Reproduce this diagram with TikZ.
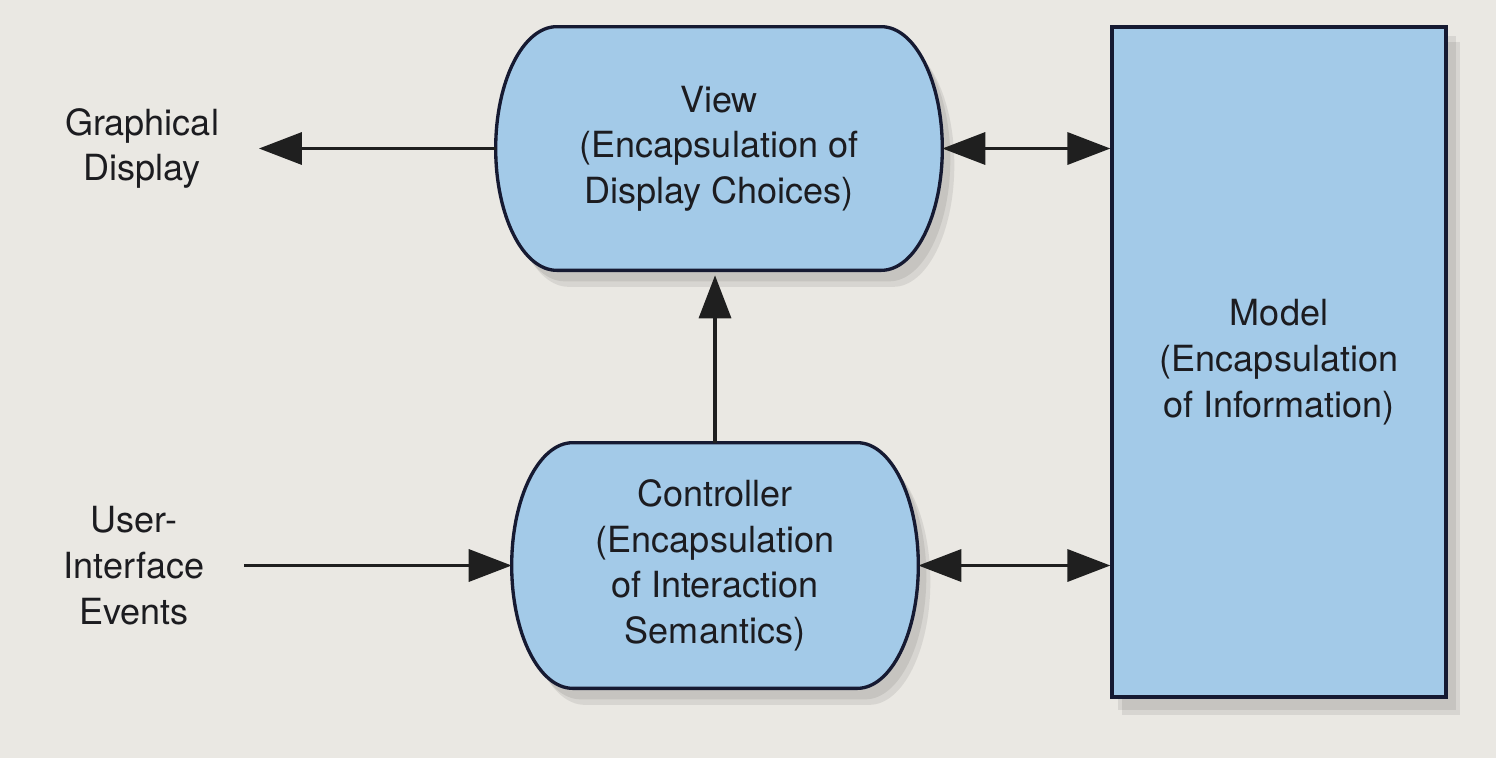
\documentclass[tikz,border=0pt]{standalone}
\usepackage{fontspec}
\setmainfont{TeX Gyre Heros}
\usetikzlibrary{arrows.meta,backgrounds,calc}
\definecolor{pagebg}{RGB}{234,232,227}
\definecolor{boxblue}{RGB}{163,202,232}
\definecolor{boxline}{RGB}{22,26,50}
\definecolor{ink}{RGB}{28,28,32}
\newcommand\capsule[2][capline]{%
  \path[#1] let \p1=(#2.north), \p2=(#2.south), \n1={0.5*(\y1-\y2)} in
    ([xshift=1.22cm]#2.north west) -- ([xshift=-1.22cm]#2.north east)
    arc[start angle=90,end angle=-90,x radius=1.22cm,y radius={\n1*1pt}]
    -- ([xshift=1.22cm]#2.south west)
    arc[start angle=270,end angle=90,x radius=1.22cm,y radius={\n1*1pt}] -- cycle;}
\begin{document}
\begin{tikzpicture}[x=0.02cm,y=-0.02cm,font=\fontsize{20.5}{26}\selectfont,text=ink,
  capline/.style={draw=boxline,line width=1.9pt,fill=boxblue},
  capshadow/.style={fill=black,opacity=.08,transform canvas={shift={(.16cm,-.22cm)}}},
  box/.style={inner sep=0pt,align=center,minimum height=4.86cm},
  lbl/.style={inner sep=0pt,outer sep=.8cm,align=center},
  >={Triangle[length=.86cm,width=.64cm]},
  arr/.style={line width=2pt,draw=black!88,->}]
  \useasboundingbox (0,0) rectangle (1496,758);
  \node[box,minimum width=8.92cm] (view) at (719,148.5){View\\(Encapsulation of\\Display Choices)};
  \node[box,minimum width=8.12cm,minimum height=4.9cm] (ctrl) at (715,565.5){Controller\\(Encapsulation\\of Interaction\\Semantics)};
  \node[capline,inner sep=0pt,align=center,minimum width=6.68cm,minimum height=13.4cm] (model) at (1279,362){Model\\(Encapsulation\\of Information)};
  \node[lbl] (gd) at (142,148.5){Graphical\\Display};
  \node[lbl] (ui) at (134,565.5){User-\\Interface\\Events};
  \draw[arr] (view.west) -- (gd.east);
  \draw[arr] (ui.east) -- (ctrl.west);
  \draw[arr,shorten >=.1cm] (ctrl.north) -- (ctrl.north |- view.south);
  \draw[arr,<->] (view.east) -- (view.east -| model.west);
  \draw[arr,<->] (ctrl.east) -- (ctrl.east -| model.west);
  \begin{scope}[on background layer]
    \fill[pagebg] (0,0) rectangle (1496,758);
    \capsule[capshadow]{view}
    \capsule[capshadow]{ctrl}
    \path[capshadow] (model.north west) rectangle (model.south east);
    \capsule[capshadow,transform canvas={shift={(.08cm,-.11cm)}}]{view}
    \capsule[capshadow,transform canvas={shift={(.08cm,-.11cm)}}]{ctrl}
    \path[capshadow,transform canvas={shift={(.08cm,-.11cm)}}] (model.north west) rectangle (model.south east);
    \capsule{view}
    \capsule{ctrl}
  \end{scope}
\end{tikzpicture}
\end{document}
